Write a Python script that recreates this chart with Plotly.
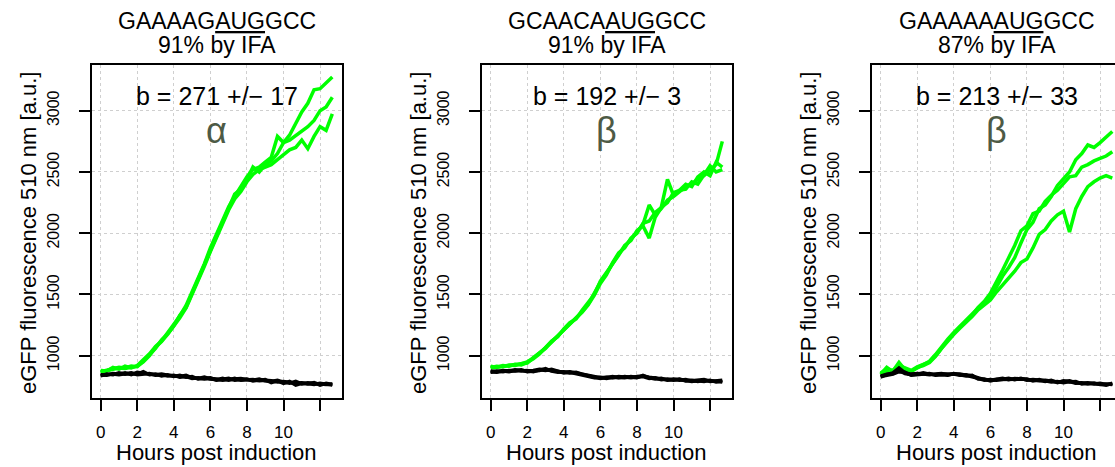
import plotly.graph_objects as go

# ---------------- data ----------------
HOURS = [0, 0.33, 0.67, 1, 1.33, 1.67, 2, 2.33, 2.67, 3, 3.33, 3.67, 4, 4.33, 4.67,
         5, 5.33, 5.67, 6, 6.33, 6.67, 7, 7.33, 7.67, 8, 8.33, 8.67, 9, 9.33, 9.67,
         10, 10.33, 10.67, 11, 11.33, 11.67, 12, 12.33, 12.67]

# Panel 1: GAAAAG AUG GCC
G1a = [880, 875, 905, 890, 915, 900, 920, 965, 1015, 1075, 1120, 1190, 1255, 1325, 1410, 1520, 1630, 1750, 1880, 1990, 2110, 2215, 2300, 2380, 2460, 2520, 2540, 2580, 2620, 2790, 2740, 2800, 2900, 2990, 3060, 3170, 3180, 3230, 3275]
G1b = [870, 885, 895, 905, 900, 915, 910, 955, 1005, 1060, 1130, 1180, 1245, 1330, 1395, 1510, 1615, 1735, 1865, 1975, 2095, 2200, 2320, 2360, 2440, 2540, 2500, 2560, 2590, 2650, 2740, 2760, 2800, 2840, 2870, 2920, 3000, 3030, 3110]
G1c = [865, 880, 890, 900, 895, 905, 915, 950, 1000, 1070, 1115, 1175, 1240, 1310, 1390, 1500, 1600, 1730, 1850, 1960, 2080, 2190, 2280, 2340, 2420, 2480, 2520, 2540, 2560, 2600, 2640, 2680, 2700, 2760, 2690, 2790, 2870, 2840, 2975]
B1a = [845, 840, 855, 850, 860, 845, 865, 855, 850, 845, 850, 840, 835, 830, 840, 820, 815, 825, 810, 805, 815, 800, 810, 815, 805, 800, 810, 795, 790, 800, 785, 775, 790, 770, 780, 775, 770, 765, 770]
B1b = [835, 850, 845, 860, 850, 855, 850, 870, 845, 850, 835, 845, 830, 840, 825, 830, 810, 815, 820, 800, 810, 815, 800, 805, 810, 795, 800, 805, 780, 795, 775, 790, 760, 775, 770, 780, 760, 775, 765]
B1c = [840, 845, 850, 845, 855, 860, 845, 850, 855, 840, 845, 835, 840, 825, 830, 815, 820, 810, 815, 810, 800, 805, 815, 800, 800, 805, 795, 800, 795, 785, 790, 780, 775, 780, 775, 765, 775, 770, 760]

# Panel 2: GCAACA AUG GCC
G2a = [905, 915, 910, 925, 920, 935, 950, 980, 1020, 1065, 1110, 1160, 1215, 1260, 1310, 1360, 1420, 1510, 1600, 1670, 1750, 1830, 1890, 1950, 2010, 2070, 2230, 2150, 2200, 2270, 2300, 2340, 2380, 2400, 2440, 2470, 2520, 2560, 2750]
G2b = [915, 905, 920, 915, 930, 925, 945, 975, 1015, 1070, 1120, 1155, 1220, 1270, 1300, 1370, 1430, 1500, 1610, 1680, 1740, 1820, 1900, 1940, 2020, 2060, 1960, 2130, 2210, 2440, 2310, 2350, 2360, 2420, 2400, 2480, 2550, 2500, 2520]
G2c = [900, 910, 915, 920, 925, 930, 940, 985, 1025, 1060, 1115, 1165, 1210, 1265, 1315, 1355, 1415, 1495, 1590, 1660, 1760, 1840, 1880, 1960, 2000, 2080, 2100, 2170, 2210, 2250, 2330, 2350, 2400, 2380, 2460, 2500, 2470, 2580, 2540]
B2a = [875, 870, 880, 875, 885, 880, 875, 880, 890, 885, 880, 870, 865, 870, 860, 855, 840, 830, 820, 825, 820, 830, 825, 820, 830, 835, 825, 815, 810, 805, 810, 800, 805, 795, 800, 805, 790, 795, 800]
B2b = [865, 875, 870, 880, 875, 885, 870, 875, 880, 895, 875, 865, 870, 860, 865, 850, 835, 825, 815, 820, 830, 820, 830, 825, 820, 840, 820, 810, 815, 800, 805, 810, 795, 800, 790, 800, 795, 790, 785]
B2c = [870, 865, 875, 870, 880, 875, 880, 870, 885, 880, 890, 875, 860, 865, 855, 845, 830, 820, 825, 815, 825, 825, 820, 830, 825, 830, 815, 820, 805, 810, 800, 805, 800, 790, 795, 790, 800, 785, 795]

# Panel 3: GAAAAA AUG GCC
G3a = [850, 905, 870, 930, 890, 875, 900, 925, 955, 1010, 1075, 1135, 1190, 1240, 1290, 1340, 1390, 1430, 1480, 1560, 1650, 1720, 1800, 1920, 2030, 2090, 2200, 2230, 2300, 2390, 2450, 2500, 2600, 2650, 2720, 2700, 2740, 2780, 2830]
G3b = [860, 890, 880, 920, 900, 880, 910, 930, 950, 1000, 1065, 1125, 1180, 1235, 1280, 1330, 1395, 1445, 1510, 1600, 1700, 1800, 1900, 2020, 2060, 2160, 2180, 2260, 2310, 2350, 2400, 2460, 2470, 2540, 2560, 2590, 2610, 2630, 2665]
G3c = [845, 880, 875, 945, 885, 870, 905, 920, 945, 995, 1060, 1120, 1175, 1225, 1270, 1320, 1375, 1420, 1455, 1520, 1580, 1630, 1690, 1760, 1790, 1880, 1990, 2030, 2100, 2150, 2180, 2010, 2200, 2300, 2380, 2420, 2450, 2470, 2450]
B3a = [835, 845, 860, 900, 860, 850, 855, 850, 845, 850, 855, 845, 850, 840, 845, 835, 820, 805, 800, 810, 815, 805, 815, 810, 805, 800, 795, 800, 795, 785, 790, 795, 780, 775, 780, 770, 775, 765, 770]
B3b = [825, 850, 855, 880, 855, 845, 850, 860, 850, 845, 850, 850, 845, 850, 840, 830, 815, 800, 805, 800, 810, 815, 805, 815, 800, 805, 800, 790, 800, 780, 795, 785, 790, 770, 775, 775, 765, 770, 765]
B3c = [830, 840, 850, 870, 865, 840, 845, 855, 855, 840, 845, 840, 855, 845, 835, 840, 810, 810, 795, 805, 805, 810, 810, 805, 810, 795, 805, 795, 785, 790, 780, 790, 775, 780, 770, 775, 770, 760, 775]

GREEN_SERIES = [[G1a, G1b, G1c], [G2a, G2b, G2c], [G3a, G3b, G3c]]
BLACK_SERIES = [[B1a, B1b, B1c], [B2a, B2b, B2c], [B3a, B3b, B3c]]

SEQ_TITLES = ["GAAAAG<u>AUG</u>GCC", "GCAACA<u>AUG</u>GCC", "GAAAAA<u>AUG</u>GCC"]
IFA_TITLES = ["91% by IFA", "91% by IFA", "87% by IFA"]
B_TEXTS = ["b = 271 +/\u2212 17", "b = 192 +/\u2212 3", "b = 213 +/\u2212 33"]
GREEK = ["\u03b1", "\u03b2", "\u03b2"]
X_TICKS = [0, 2, 4, 6, 8, 10, 12]
X_TICK_LABELS = ["0", "2", "4", "6", "8", "10", ""]
Y_TICKS = [1000, 1500, 2000, 2500, 3000]
X_TITLE = "Hours post induction"
Y_TITLE = "eGFP fluorescence 510 nm [a.u.]"

# ---------------- layout geometry (pixels) ----------------
W, H = 1115, 467
BOX_LEFT = [92, 482, 872]
BOX_W = 250
BOX_TOP, BOX_BOTTOM = 65, 398
X_RANGE = [-0.476, 13.2]
Y_RANGE = [655, 3373]
FONT = "Liberation Sans, Arial, Helvetica, sans-serif"
GREEN = "#00FF00"
GREEK_COLOR = "#4D5A45"


def py(p):
    return 1 - p / H


fig = go.Figure()
annotations = []
for i in range(3):
    ax = "" if i == 0 else str(i + 1)
    xref = "x" + ax
    yref = "y" + ax
    for ys in GREEN_SERIES[i]:
        fig.add_trace(go.Scatter(x=HOURS, y=ys, mode="lines", xaxis=xref, yaxis=yref,
                                 line=dict(color=GREEN, width=3.5), showlegend=False,
                                 hoverinfo="skip"))
    for ys in BLACK_SERIES[i]:
        fig.add_trace(go.Scatter(x=HOURS, y=ys, mode="lines", xaxis=xref, yaxis=yref,
                                 line=dict(color="black", width=3.5), showlegend=False,
                                 hoverinfo="skip"))

    left = BOX_LEFT[i]
    right = min(left + BOX_W, W)
    xr = [X_RANGE[0], X_RANGE[0] + (X_RANGE[1] - X_RANGE[0]) * (right - left) / BOX_W]
    full = (right - left) == BOX_W
    xa = dict(domain=[left / W, right / W], range=xr, anchor=yref,
              tickmode="array", tickvals=X_TICKS, ticktext=X_TICK_LABELS,
              ticks="outside", ticklen=11, tickwidth=1.5, tickcolor="black",
              showline=True, linecolor="black", linewidth=1.5, mirror=True,
              showgrid=True, gridcolor="#CFCFCF", griddash="dot", gridwidth=1,
              zeroline=False, tickfont=dict(family=FONT, size=17, color="black"),
              ticklabelstandoff=7)
    ya = dict(domain=[py(BOX_BOTTOM), py(BOX_TOP)], range=Y_RANGE, anchor=xref,
              tickmode="array", tickvals=Y_TICKS, tickangle=-90,
              ticks="outside", ticklen=11, tickwidth=1.5, tickcolor="black",
              showline=True, linecolor="black", linewidth=1.5, mirror=full,
              showgrid=True, gridcolor="#CFCFCF", griddash="dot", gridwidth=1,
              zeroline=False, tickfont=dict(family=FONT, size=16, color="black"),
              ticklabelstandoff=14)
    fig.update_layout(**{"xaxis" + ax: xa, "yaxis" + ax: ya})

    cx = 6.36
    annotations += [
        dict(x=cx, xref=xref, y=py(21), yref="paper", text=SEQ_TITLES[i], showarrow=False,
             xanchor="center", yanchor="middle", font=dict(family=FONT, size=23, color="black")),
        dict(x=cx, xref=xref, y=py(45), yref="paper", text=IFA_TITLES[i], showarrow=False,
             xanchor="center", yanchor="middle", font=dict(family=FONT, size=23, color="black")),
        dict(x=cx, xref=xref, y=py(96), yref="paper", text=B_TEXTS[i], showarrow=False,
             xanchor="center", yanchor="middle", font=dict(family=FONT, size=25, color="black")),
        dict(x=cx, xref=xref, y=py(130), yref="paper", text=GREEK[i], showarrow=False,
             xanchor="center", yanchor="middle", font=dict(family=FONT, size=36, color=GREEK_COLOR)),
        dict(x=cx, xref=xref, y=py(452), yref="paper", text=X_TITLE, showarrow=False,
             xanchor="center", yanchor="middle", font=dict(family=FONT, size=22, color="black")),
        dict(x=(left - 64) / W, xref="paper", y=py(233), yref="paper", text=Y_TITLE,
             showarrow=False, textangle=-90, xanchor="center", yanchor="middle",
             font=dict(family=FONT, size=22, color="black")),
    ]

fig.update_layout(width=W, height=H, margin=dict(l=0, r=0, t=0, b=0),
                  paper_bgcolor="white", plot_bgcolor="white",
                  annotations=annotations, showlegend=False)

fig.write_html("out.html", config={"displayModeBar": False},
               post_script="document.body.style.margin='0';document.body.style.overflow='hidden';")
